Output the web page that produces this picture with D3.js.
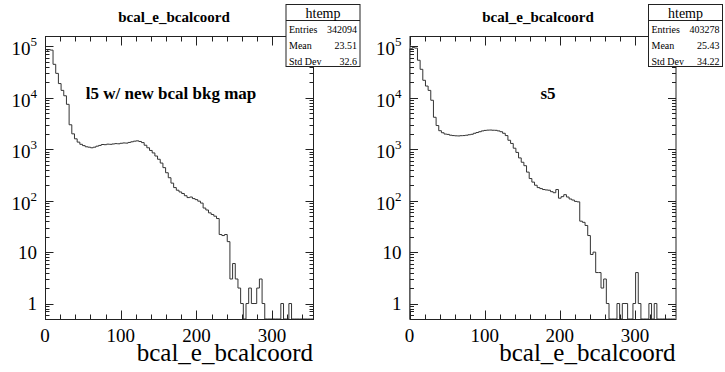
<!DOCTYPE html>
<html>
<head>
<meta charset="utf-8">
<script src="https://cdn.jsdelivr.net/npm/d3@7"></script>
<style>
  body { margin: 0; background: #fff; }
  svg { display: block; }
  svg text { font-family: "Liberation Serif", "Times New Roman", Times, "DejaVu Serif", serif; }
</style>
</head>
<body>
<svg id="chart" width="725" height="372"></svg>
<script>
// ── Data ────────────────────────────────────────────────────────────────────
const nBins = 100;
const xMin = 0;
const xMax = 354;

// bin contents (log scale, approximate)
const countsL5 = [
  80000, 87000, 85000, 45000, 30000, 19000, 14000, 11000, 7500, 3000,
  2000, 1600, 1380, 1250, 1180, 1120, 1100, 1070, 1100, 1150,
  1190, 1240, 1230, 1260, 1250, 1270, 1290, 1280, 1310, 1330,
  1320, 1360, 1400, 1440, 1460, 1420, 1350, 1200, 1070, 950,
  850, 740, 640, 540, 440, 350, 280, 220, 180, 160,
  148, 138, 125, 115, 118, 110, 105, 98, 90, 72,
  66, 58, 54, 50, 45, 22, 21, 22, 16, 3,
  6, 3, 2, 1, 0, 1, 2, 1, 1, 2,
  3, 1, 0, 0, 0, 0, 0, 0, 1, 0,
  0, 1, 0, 0, 0, 0, 0, 0, 0, 0,
];
const countsS5 = [
  90000, 95000, 93000, 54000, 36000, 22000, 17000, 14000, 9000, 4200,
  2900, 2300, 2100, 1980, 1950, 1880, 1850, 1830, 1820, 1840,
  1850, 1880, 1920, 1960, 2050, 2120, 2200, 2280, 2330, 2360,
  2370, 2350, 2340, 2280, 2200, 2050, 1850, 1500, 1300, 1050,
  870, 680, 560, 480, 360, 270, 230, 200, 180, 172,
  165, 162, 160, 150, 143, 165, 112, 120, 131, 118,
  108, 103, 97, 95, 40, 38, 33, 21, 9, 10,
  4, 4, 2, 3, 1, 0, 0, 0, 1, 0,
  1, 1, 0, 0, 1, 4, 1, 0, 0, 0,
  1, 0, 1, 0, 0, 0, 0, 0, 0, 0,
];

const xTickValues = [0, 100, 200, 300];
const yDecades = [1, 10, 100, 1000, 10000, 100000];
const statLabels = ["Entries", "Mean", "Std Dev"];
const statsL5 = ["342094", "23.51", "32.6"];
const statsS5 = ["403278", "25.43", "34.22"];

const histTitle = "bcal_e_bcalcoord";
const xAxisTitle = "bcal_e_bcalcoord";

// ── Layout ──────────────────────────────────────────────────────────────────
const panels = [
  { counts: countsL5, stats: statsL5, note: "l5 w/ new bcal bkg map",
    left: 45, right: 313, titleX: 174, noteX: 171, statX: 286 },
  { counts: countsS5, stats: statsS5, note: "s5",
    left: 409.5, right: 675.5, titleX: 538, noteX: 548, statX: 648.5 },
];
const frameTop = 36;
const frameBottom = 319;

const svg = d3.select("#chart");

panels.forEach((p) => drawPanel(p));

function drawPanel(p) {
  const x = d3.scaleLinear().domain([xMin, xMax]).range([p.left, p.right]);
  const y = d3.scaleLog().domain([0.5, 1.6e5]).range([frameBottom, frameTop]);
  const binW = (xMax - xMin) / nBins;
  const g = svg.append("g");

  // ── Histogram outline (steps), zero bins drop to the frame bottom
  const yv = (v) => (v > 0 ? y(v) : frameBottom);
  let d = `M${x(xMin)},${frameBottom}`;
  p.counts.forEach((v, i) => {
    const x0 = x(xMin + i * binW);
    const x1 = x(xMin + (i + 1) * binW);
    d += `L${x0},${yv(v)}L${x1},${yv(v)}`;
  });
  d += `L${x(xMax)},${frameBottom}`;

  g.append("clipPath")
    .attr("id", `clip${p.left}`)
    .append("rect")
    .attr("x", p.left)
    .attr("y", frameTop)
    .attr("width", p.right - p.left)
    .attr("height", frameBottom - frameTop);

  g.append("path")
    .attr("d", d)
    .attr("fill", "none")
    .attr("stroke", "#333")
    .attr("stroke-width", 1)
    .attr("clip-path", `url(#clip${p.left})`);

  // ── Frame
  g.append("rect")
    .attr("x", p.left + 0.5)
    .attr("y", frameTop + 0.5)
    .attr("width", p.right - p.left)
    .attr("height", frameBottom - frameTop)
    .attr("fill", "none")
    .attr("stroke", "#222")
    .attr("stroke-width", 1);

  // ── X ticks (bottom + top)
  const xTicksAll = d3.range(0, xMax, 20);
  const tickLen = (v) => (v % 100 === 0 ? 9 : 5);
  [
    { y0: frameBottom, dir: -1 },
    { y0: frameTop, dir: 1 },
  ].forEach((side) => {
    g.append("g")
      .selectAll("line")
      .data(xTicksAll)
      .join("line")
      .attr("x1", (v) => Math.round(x(v)) + 0.5)
      .attr("x2", (v) => Math.round(x(v)) + 0.5)
      .attr("y1", side.y0 + 0.5)
      .attr("y2", (v) => side.y0 + 0.5 + side.dir * tickLen(v))
      .attr("stroke", "#222");
  });

  g.append("g")
    .selectAll("text")
    .data(xTickValues)
    .join("text")
    .attr("x", (v) => x(v))
    .attr("y", 342)
    .attr("text-anchor", "middle")
    .attr("font-size", 19)
    .text((v) => v);

  g.append("text")
    .attr("x", p.right)
    .attr("y", 361)
    .attr("text-anchor", "end")
    .attr("font-size", 25)
    .text(xAxisTitle);

  // ── Y ticks (left + right), log minors
  const yTicksAll = [];
  [0.1, 1, 10, 100, 1000, 10000, 100000].forEach((dec) => {
    for (let k = 1; k <= 9; k++) {
      const v = dec * k;
      if (v >= 0.5 && v <= 1.6e5) yTicksAll.push({ v, major: k === 1 });
    }
  });
  const yLen = (t) => (t.major ? 8 : 4);
  [
    { x0: p.left, dir: 1 },
    { x0: p.right, dir: -1 },
  ].forEach((side) => {
    g.append("g")
      .selectAll("line")
      .data(yTicksAll)
      .join("line")
      .attr("x1", side.x0 + 0.5)
      .attr("x2", (t) => side.x0 + 0.5 + side.dir * yLen(t))
      .attr("y1", (t) => Math.round(y(t.v)) + 0.5)
      .attr("y2", (t) => Math.round(y(t.v)) + 0.5)
      .attr("stroke", "#222");
  });

  // decade labels: 1, 10, then 10^n
  const yLab = g
    .append("g")
    .selectAll("text")
    .data(yDecades)
    .join("text")
    .attr("x", p.left - 8)
    .attr("text-anchor", "end")
    .attr("font-size", 19);
  yLab.each(function (v) {
    const t = d3.select(this);
    const e = Math.round(Math.log10(v));
    if (e < 2) {
      t.attr("y", y(v) + 6.5).text(v);
    } else {
      t.attr("y", y(v) + 9);
      t.append("tspan").text("10");
      t.append("tspan")
        .attr("font-size", 13)
        .attr("dy", -9)
        .text(e);
    }
  });

  // ── Title
  svg.append("text")
    .attr("x", p.titleX)
    .attr("y", 22)
    .attr("text-anchor", "middle")
    .attr("font-weight", "bold")
    .attr("font-size", 15)
    .text(histTitle);

  // ── Note inside the frame
  svg.append("text")
    .attr("x", p.noteX)
    .attr("y", 99)
    .attr("text-anchor", "middle")
    .attr("font-weight", "bold")
    .attr("font-size", 17)
    .text(p.note);

  // ── Stats box
  const sb = svg.append("g").attr("transform", `translate(${p.statX},4.5)`);
  const sw = 74;
  sb.append("rect")
    .attr("x", 0)
    .attr("y", 0)
    .attr("width", sw)
    .attr("height", 62)
    .attr("fill", "#fff")
    .attr("stroke", "#222");
  sb.append("line")
    .attr("x1", 0)
    .attr("x2", sw)
    .attr("y1", 16)
    .attr("y2", 16)
    .attr("stroke", "#222");
  sb.append("text")
    .attr("x", sw / 2)
    .attr("y", 13)
    .attr("text-anchor", "middle")
    .attr("font-size", 14)
    .text("htemp");
  statLabels.forEach((lab, i) => {
    const ty = 28 + i * 16;
    sb.append("text")
      .attr("x", 3)
      .attr("y", ty)
      .attr("font-size", 10)
      .text(lab);
    sb.append("text")
      .attr("x", sw - 3)
      .attr("y", ty)
      .attr("text-anchor", "end")
      .attr("font-size", 10)
      .text(p.stats[i]);
  });
}
</script>
</body>
</html>
